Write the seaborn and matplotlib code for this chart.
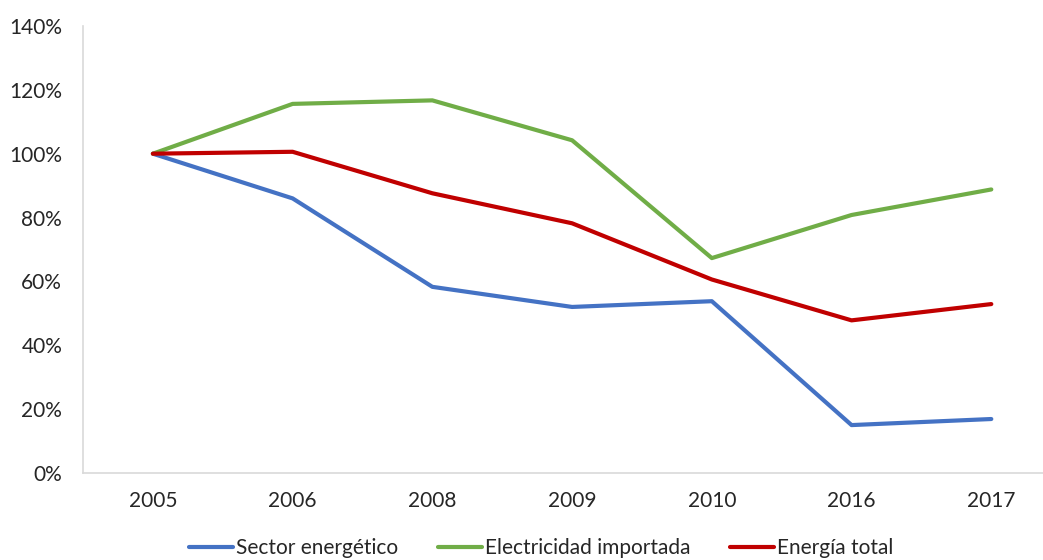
import pandas as pd
import matplotlib.pyplot as plt
import seaborn as sns
from matplotlib.ticker import PercentFormatter

# Datos (índice 2005 = 100%)
anios = ["2005", "2006", "2008", "2009", "2010", "2016", "2017"]
sector_energetico = [100, 86.0, 58.3, 52.0, 53.8, 15.0, 16.9]
electricidad_importada = [100, 115.6, 116.7, 104.2, 67.3, 80.8, 88.8]
energia_total = [100, 100.6, 87.6, 78.2, 60.6, 47.8, 52.9]

series = ["Sector energético", "Electricidad importada", "Energía total"]
colores = ["#4472C4", "#70AD47", "#C00000"]

df = pd.DataFrame({
    "pos": list(range(len(anios))) * 3,
    "valor": sector_energetico + electricidad_importada + energia_total,
    "serie": [s for s in series for _ in anios],
})

sns.set_style("white")
plt.rcParams["font.family"] = ["Lato", "DejaVu Sans"]

fig = plt.figure(figsize=(10.43, 5.6), dpi=100)
ax = fig.add_axes([0.0796, 0.1554, 0.9204, 0.7982])

sns.lineplot(data=df, x="pos", y="valor", hue="serie", hue_order=series,
             palette=colores, linewidth=3, ax=ax)

ax.set_xlim(-0.5, 6.37)
ax.set_ylim(0, 140)
ax.set_yticks(range(0, 141, 20))
ax.yaxis.set_major_formatter(PercentFormatter(decimals=0))
ax.set_xticks(range(len(anios)))
ax.set_xticklabels(anios)
ax.set_xlabel("")
ax.set_ylabel("")
ax.tick_params(axis="both", length=0, labelsize=15, labelcolor="#262626")
ax.tick_params(axis="x", pad=13)
ax.tick_params(axis="y", pad=15)

for lado in ["top", "right"]:
    ax.spines[lado].set_visible(False)
for lado in ["left", "bottom"]:
    ax.spines[lado].set_color("#D9D9D9")
    ax.spines[lado].set_linewidth(1.2)

ax.legend(loc="center", bbox_to_anchor=(0.519, 0.021), bbox_transform=fig.transFigure,
          ncol=3, frameon=False, fontsize=15, handlelength=2.1, handletextpad=0.15,
          columnspacing=1.9, borderaxespad=0, labelcolor="#262626")

fig.savefig("out.png", dpi=100)
